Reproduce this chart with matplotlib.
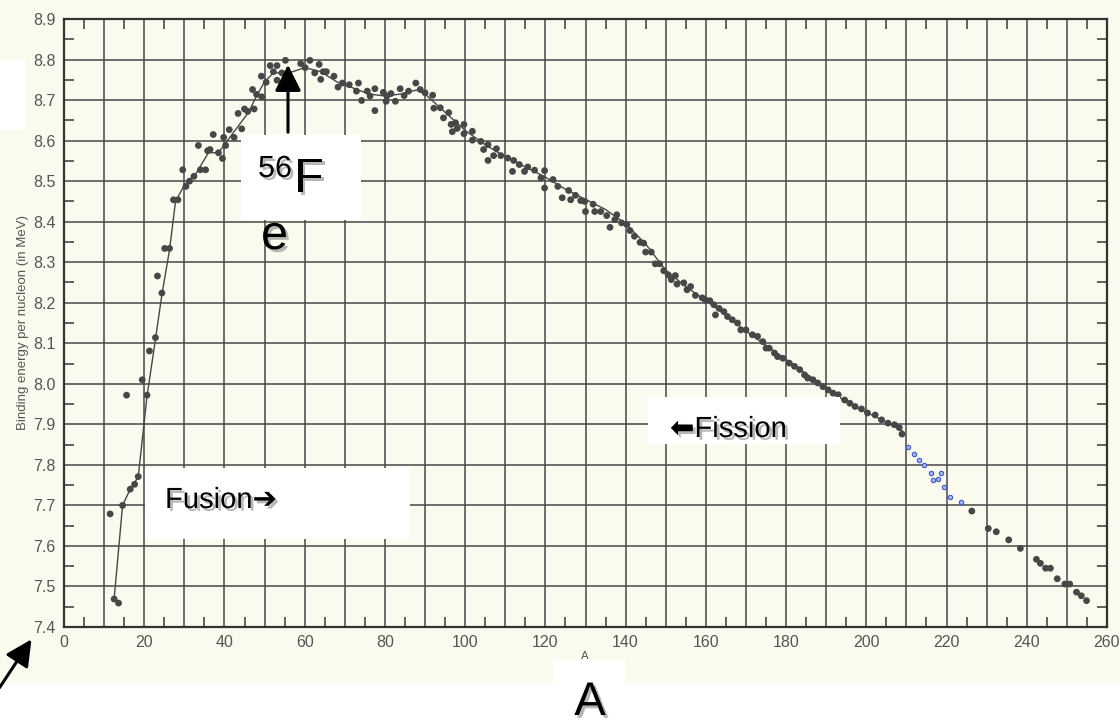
import matplotlib
matplotlib.use("Agg")
import matplotlib.pyplot as plt
import matplotlib.patheffects as pe
from matplotlib.patches import Rectangle, FancyArrowPatch
from matplotlib.ticker import MultipleLocator, FuncFormatter

# mass number A and binding energy per nucleon (MeV)
A_pts = [11.5, 12.5, 13.6, 14.6, 15.6, 16.5, 17.6, 18.5, 19.5, 20.7, 21.3, 22.8, 23.3, 24.4, 25.1, 26.3,
         27.3, 28.4, 29.6, 30.4, 31.3, 32.4, 33.5, 34.0, 35.3, 35.8, 36.4, 37.2, 38.5, 39.5, 39.8, 40.3,
         41.2, 42.4, 43.4, 44.3, 45.0, 45.8, 47.0, 47.4, 48.0, 49.2, 49.3, 50.4, 51.4, 52.2, 53.1, 53.1,
         54.3, 55.2, 57.3, 59.0, 60.1, 61.3, 62.5, 63.6, 64.0, 64.6, 65.4, 67.3, 68.3, 69.4, 71.1, 72.9,
         73.4, 74.2, 75.6, 76.3, 77.5, 77.5, 79.6, 80.3, 80.5, 81.5, 82.6, 83.8, 84.8, 85.9, 87.7, 88.8,
         90.0, 91.9, 92.2, 93.8, 94.6, 95.9, 96.5, 97.6, 96.8, 98.0, 99.7, 99.7, 101.8, 101.8, 103.9, 104.6,
         105.7, 105.7, 107.1, 107.8, 108.9, 110.6, 111.8, 112.1, 113.5, 114.8, 115.6, 117.3, 118.9, 119.8,
         119.8, 121.9, 123.1, 124.2, 125.8, 126.3, 127.5, 128.8, 129.8, 130.0, 131.9, 132.3, 133.8, 135.3,
         136.1, 137.3, 137.8, 139.0, 140.3, 141.1, 142.2, 143.6, 144.5, 145.0, 146.4, 147.4, 148.5, 149.5,
         150.6, 151.4, 152.4, 152.8, 154.5, 155.3, 156.2, 157.4, 159.1, 159.9, 161.0, 162.0, 162.4, 163.3,
         164.5, 165.4, 166.6, 167.9, 168.7, 170.0, 171.6, 172.9, 174.2, 175.0, 175.8, 177.1, 177.9, 179.2,
         180.8, 182.1, 183.4, 184.6, 185.4, 186.7, 187.9, 189.2, 190.5, 191.7, 193.0, 194.6, 195.9, 197.2,
         198.8, 200.3, 202.2, 203.8, 205.4, 207.0, 208.2, 208.9,
         226.3, 230.4, 232.4, 235.5, 238.4, 242.4, 243.4, 244.7, 245.9, 247.6, 249.5, 250.7, 252.4, 253.6,
         254.9]
B_pts = [7.679, 7.469, 7.459, 7.700, 7.972, 7.740, 7.752, 7.771, 8.010, 7.972, 8.081, 8.114, 8.266, 8.224,
         8.334, 8.334, 8.454, 8.454, 8.528, 8.487, 8.500, 8.512, 8.588, 8.528, 8.528, 8.575, 8.578, 8.615,
         8.570, 8.556, 8.608, 8.588, 8.627, 8.608, 8.667, 8.629, 8.678, 8.672, 8.726, 8.678, 8.714, 8.759,
         8.708, 8.744, 8.785, 8.770, 8.785, 8.749,
         8.767, 8.798, 8.738, 8.790, 8.780, 8.798, 8.767, 8.788, 8.751, 8.770, 8.770, 8.759, 8.732, 8.742,
         8.738, 8.722, 8.742, 8.699, 8.722, 8.710, 8.728, 8.674, 8.719, 8.697, 8.710, 8.716, 8.697, 8.728,
         8.711, 8.722, 8.742, 8.726, 8.718, 8.712, 8.680, 8.681, 8.656, 8.669, 8.640, 8.644, 8.622, 8.630,
         8.640, 8.617, 8.623, 8.601, 8.598, 8.578, 8.590, 8.551, 8.563, 8.580, 8.563, 8.557, 8.524, 8.551,
         8.541, 8.524, 8.535, 8.527, 8.508, 8.526, 8.483, 8.504, 8.487, 8.459, 8.477, 8.454, 8.465, 8.452,
         8.450, 8.425, 8.443, 8.425, 8.425, 8.415, 8.386, 8.405, 8.417, 8.397, 8.393, 8.378, 8.364, 8.349,
         8.347, 8.325, 8.325, 8.296, 8.296, 8.279, 8.269, 8.257, 8.267, 8.246, 8.249, 8.232, 8.240, 8.218,
         8.212, 8.207, 8.205, 8.195, 8.170, 8.186,
         8.178, 8.166, 8.158, 8.150, 8.133, 8.133, 8.121, 8.117, 8.104, 8.088, 8.088, 8.076, 8.067, 8.063,
         8.051, 8.043, 8.035, 8.022, 8.014, 8.010, 8.002, 7.993, 7.985, 7.977, 7.973, 7.960, 7.952, 7.944,
         7.938, 7.928, 7.923, 7.911, 7.903, 7.899, 7.892, 7.876,
         7.686, 7.643, 7.635, 7.615, 7.594, 7.567, 7.557, 7.545, 7.545, 7.519, 7.506, 7.506, 7.486, 7.477,
         7.465]

# hand drawn blue dots
A_blue = [210.4, 211.9, 213.1, 214.3, 216.2, 216.6, 217.9, 218.5, 219.3, 220.8, 223.7]
B_blue = [7.844, 7.827, 7.812, 7.800, 7.781, 7.763, 7.765, 7.781, 7.745, 7.720, 7.709]

# smooth curve through the points
A_line = [12.5, 14.6, 16.5, 18.5, 20.7, 22.8, 24.4, 26.3, 27.8, 30, 33, 36, 38.5, 40, 43, 46, 48, 50, 52,
          55, 57, 60, 64, 68, 72, 76, 80, 84, 88, 90, 95, 100, 105, 110, 115, 120, 125, 130, 135, 140,
          145, 150, 155, 160, 165, 170, 175, 180, 185, 190, 195, 200, 205, 208.9]
B_line = [7.47, 7.70, 7.74, 7.77, 7.97, 8.11, 8.22, 8.33, 8.45, 8.49, 8.52, 8.57, 8.57, 8.59, 8.63, 8.67,
          8.71, 8.745, 8.765, 8.77, 8.77, 8.78, 8.77, 8.745, 8.73, 8.715, 8.71, 8.715, 8.725, 8.715, 8.67,
          8.625, 8.59, 8.56, 8.535, 8.51, 8.48, 8.455, 8.43, 8.395, 8.345, 8.28, 8.24, 8.205, 8.17, 8.13,
          8.095, 8.06, 8.025, 7.99, 7.955, 7.93, 7.905, 7.885]

W, H = 1120, 726
cream = "#fbfaee"
ink = "#474747"
grey = "#555555"


def fx(px):
    return px / W


def fy(py):
    return 1 - py / H


fig = plt.figure(figsize=(11.2, 7.26), dpi=100)
fig.patch.set_facecolor("white")
# scanned paper
fig.add_artist(Rectangle((0, fy(683)), 1, 1 - fy(683), transform=fig.transFigure,
                         facecolor=cream, edgecolor="none", zorder=-10))

ax = fig.add_axes([fx(64), fy(627), fx(1107) - fx(64), fy(19) - fy(627)])
ax.set_facecolor(cream)
ax.set_xlim(0, 260)
ax.set_ylim(7.4, 8.9)

ax.xaxis.set_major_locator(MultipleLocator(10))
ax.xaxis.set_minor_locator(MultipleLocator(5))
ax.yaxis.set_major_locator(MultipleLocator(0.1))
ax.yaxis.set_minor_locator(MultipleLocator(0.05))
ax.xaxis.set_major_formatter(FuncFormatter(lambda v, p: "%d" % round(v) if round(v) % 20 == 0 else ""))
ax.yaxis.set_major_formatter(FuncFormatter(lambda v, p: "%.1f" % v))
ax.tick_params(which="major", length=0, pad=6, labelsize=11.5, labelcolor=grey)
ax.tick_params(which="minor", direction="in", length=7, width=1.2, color=ink,
               top=True, right=True, bottom=True, left=True)
for lab in ax.get_xticklabels() + ax.get_yticklabels():
    lab.set_family("Liberation Sans")
ax.grid(True, which="major", color=ink, linewidth=1.1)
ax.set_axisbelow(True)
for s in ax.spines.values():
    s.set_color("#333333")
    s.set_linewidth(1.6)
ax.set_ylabel("Binding energy per nucleon (in MeV)", fontsize=9.5, color=grey,
              family="Liberation Sans", labelpad=3)

ax.plot(A_line, B_line, color=ink, linewidth=1.0, zorder=3)
ax.scatter(A_pts, B_pts, s=24, color=ink, edgecolors="none", zorder=4)
ax.scatter(A_blue, B_blue, s=10, facecolors="#a9b6e6", edgecolors="#3f5bc4", linewidths=0.8, zorder=4)

# little original axis label, mostly hidden
fig.text(fx(585), fy(661), "A", fontsize=8, color=grey, ha="center", va="bottom")

# white boxes pasted over the scan
boxes = [(0, 60, 25, 130), (241, 135, 361, 220), (145, 468, 410, 539), (648, 397, 840, 444),
         (553, 660, 625, 683)]
for x0, y0, x1, y1 in boxes:
    fig.add_artist(Rectangle((fx(x0), fy(y1)), fx(x1) - fx(x0), fy(y0) - fy(y1),
                             transform=fig.transFigure, facecolor="white", edgecolor="none", zorder=5))

shadow = [pe.SimplePatchShadow(offset=(2, -2), shadow_rgbFace="#888888", alpha=0.6), pe.Normal()]
fam = ["Liberation Sans", "DejaVu Sans"]

fig.text(fx(165), fy(508), "Fusion\u2794", fontsize=21, family=fam, color="black",
         va="baseline", ha="left", zorder=6, path_effects=shadow)
fig.text(fx(670), fy(437), "\u2b05Fission", fontsize=21, family=fam, color="black",
         va="baseline", ha="left", zorder=6, path_effects=shadow)
fig.text(fx(258), fy(177), "56", fontsize=22, family=fam, color="black",
         va="baseline", ha="left", zorder=6, path_effects=shadow)
fig.text(fx(294), fy(192), "F", fontsize=35, family=fam, color="black",
         va="baseline", ha="left", zorder=6, path_effects=shadow)
fig.text(fx(261), fy(249), "e", fontsize=35, family=fam, color="black",
         va="baseline", ha="left", zorder=6, path_effects=shadow)
fig.text(fx(590), fy(725), "A", fontsize=34, family=fam, color="black",
         va="bottom", ha="center", zorder=6, path_effects=shadow)

# arrow pointing at the 56Fe peak
fig.add_artist(FancyArrowPatch((fx(288), fy(135)), (fx(288), fy(62)), transform=fig.transFigure,
                               arrowstyle="-|>,head_length=1.0,head_width=0.5", mutation_scale=16,
                               color="black", linewidth=2.2, zorder=7))
# arrow in the bottom-left corner
fig.add_artist(FancyArrowPatch((fx(-2), fy(690)), (fx(33), fy(637)), transform=fig.transFigure,
                               arrowstyle="-|>,head_length=1.0,head_width=0.5", mutation_scale=16,
                               color="black", linewidth=2.2, zorder=7))

fig.savefig("out.png", dpi=100)
